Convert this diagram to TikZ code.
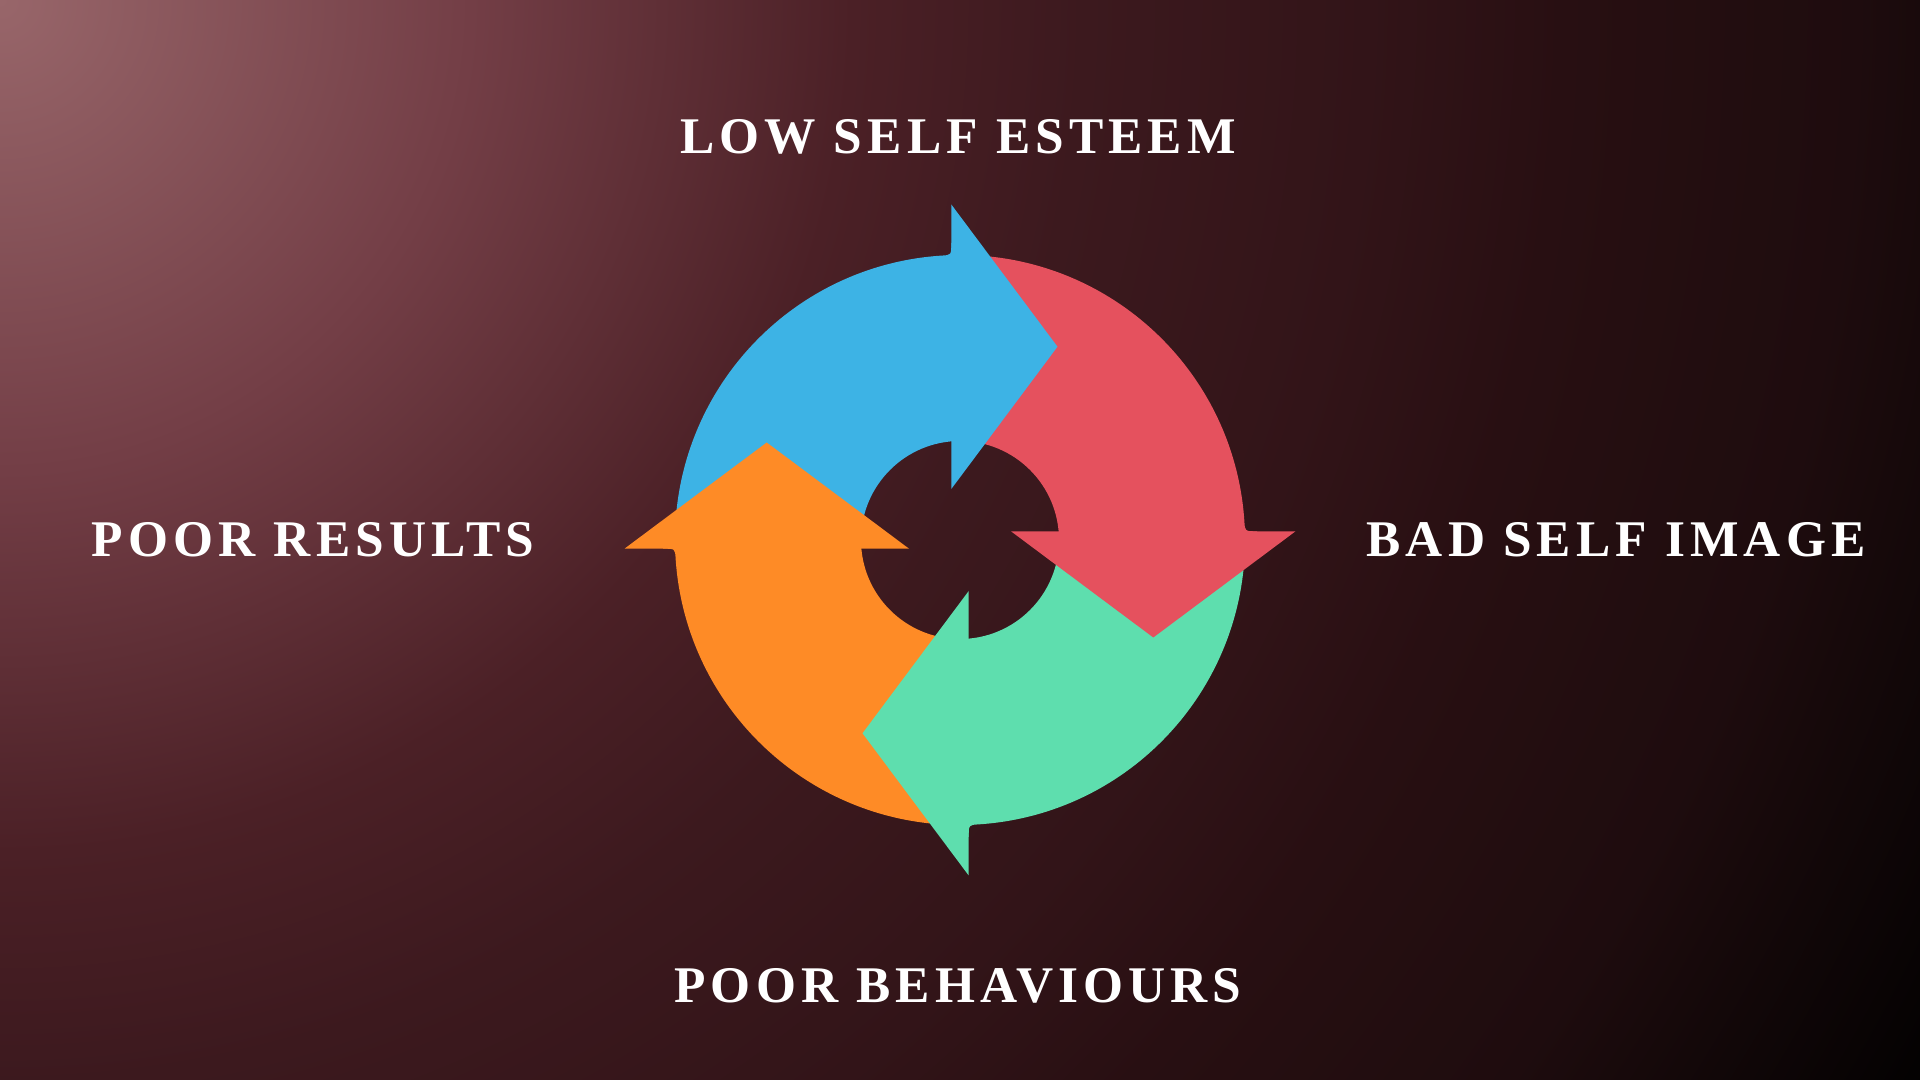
\documentclass[tikz,border=0pt]{standalone}
\usepackage{fontspec}
\setmainfont{Liberation Serif}
\definecolor{arrowblue}{HTML}{3DB3E5}
\definecolor{arrowred}{HTML}{E5515E}
\definecolor{arrowgreen}{HTML}{5EDEAE}
\definecolor{arroworange}{HTML}{FE8B26}
\definecolor{bgA}{RGB}{152,102,106}
\definecolor{bgB}{RGB}{115,62,70}
\definecolor{bgC}{RGB}{75,32,38}
\definecolor{bgD}{RGB}{60,25,30}
\definecolor{bgE}{RGB}{50,20,24}
\definecolor{bgF}{RGB}{40,15,18}
\definecolor{bgG}{RGB}{30,12,14}
\definecolor{bgH}{RGB}{2,1,1}
\pgfdeclareradialshading{bgglow}{\pgfpoint{0bp}{0bp}}{color(0bp)=(bgA); color(5.3bp)=(bgB); color(9.6bp)=(bgC); color(12.2bp)=(bgD); color(15.4bp)=(bgE); color(17.6bp)=(bgF); color(20.9bp)=(bgG); color(25bp)=(bgH); color(50bp)=(bgH)}
\tikzset{
  cyclelabel/.style={text=white, inner sep=0pt, font={\fontsize{25.7}{30}\selectfont\bfseries\addfontfeature{LetterSpace=10}}},
}
\begin{document}
\begin{tikzpicture}[x=0.5pt,y=0.5pt]
\useasboundingbox (0,0) rectangle (1920,1080);
\begin{scope}
\clip (0,0) rectangle (1920,1080);
\shade[shading=bgglow] (0,1080) circle (2220);
\end{scope}
% ring: outer radius, inner radius, offset of the head's back line
\def\ro{285}
\def\ri{99}
\def\off{8.7}
% bodies: tail and front end both tucked under a head
\foreach \rot/\col in {0/arrowblue, -90/arrowred, -180/arrowgreen, -270/arroworange}{
  \fill[\col, shift={(960,540)}, rotate=\rot] (180.95:\ro) arc[start angle=180.95, end angle=93.75, radius=\ro]
    .. controls (-\off,284.9) .. (-\off,297) -- (-4.7,297) -- (-4.7,98.9)
    arc[start angle=92.72, end angle=182.72, radius=\ri] -- cycle;
}
% heads on top of the next body
\foreach \rot/\col in {0/arrowblue, -90/arrowred, -180/arrowgreen, -270/arroworange}
  \fill[\col, shift={(960,540)}, rotate=\rot] (-\off,51) -- (-\off,335.5) -- (97.5,193.3) -- cycle;
\node[cyclelabel] (esteem) at (958,943) {LOW SELF ESTEEM};
\node[cyclelabel] (selfimage) at (1616,540) {BAD SELF IMAGE};
\node[cyclelabel] (behaviours) at (958,94) {POOR BEHAVIOURS};
\node[cyclelabel] (results) at (313,540) {POOR RESULTS};
\end{tikzpicture}
\end{document}
